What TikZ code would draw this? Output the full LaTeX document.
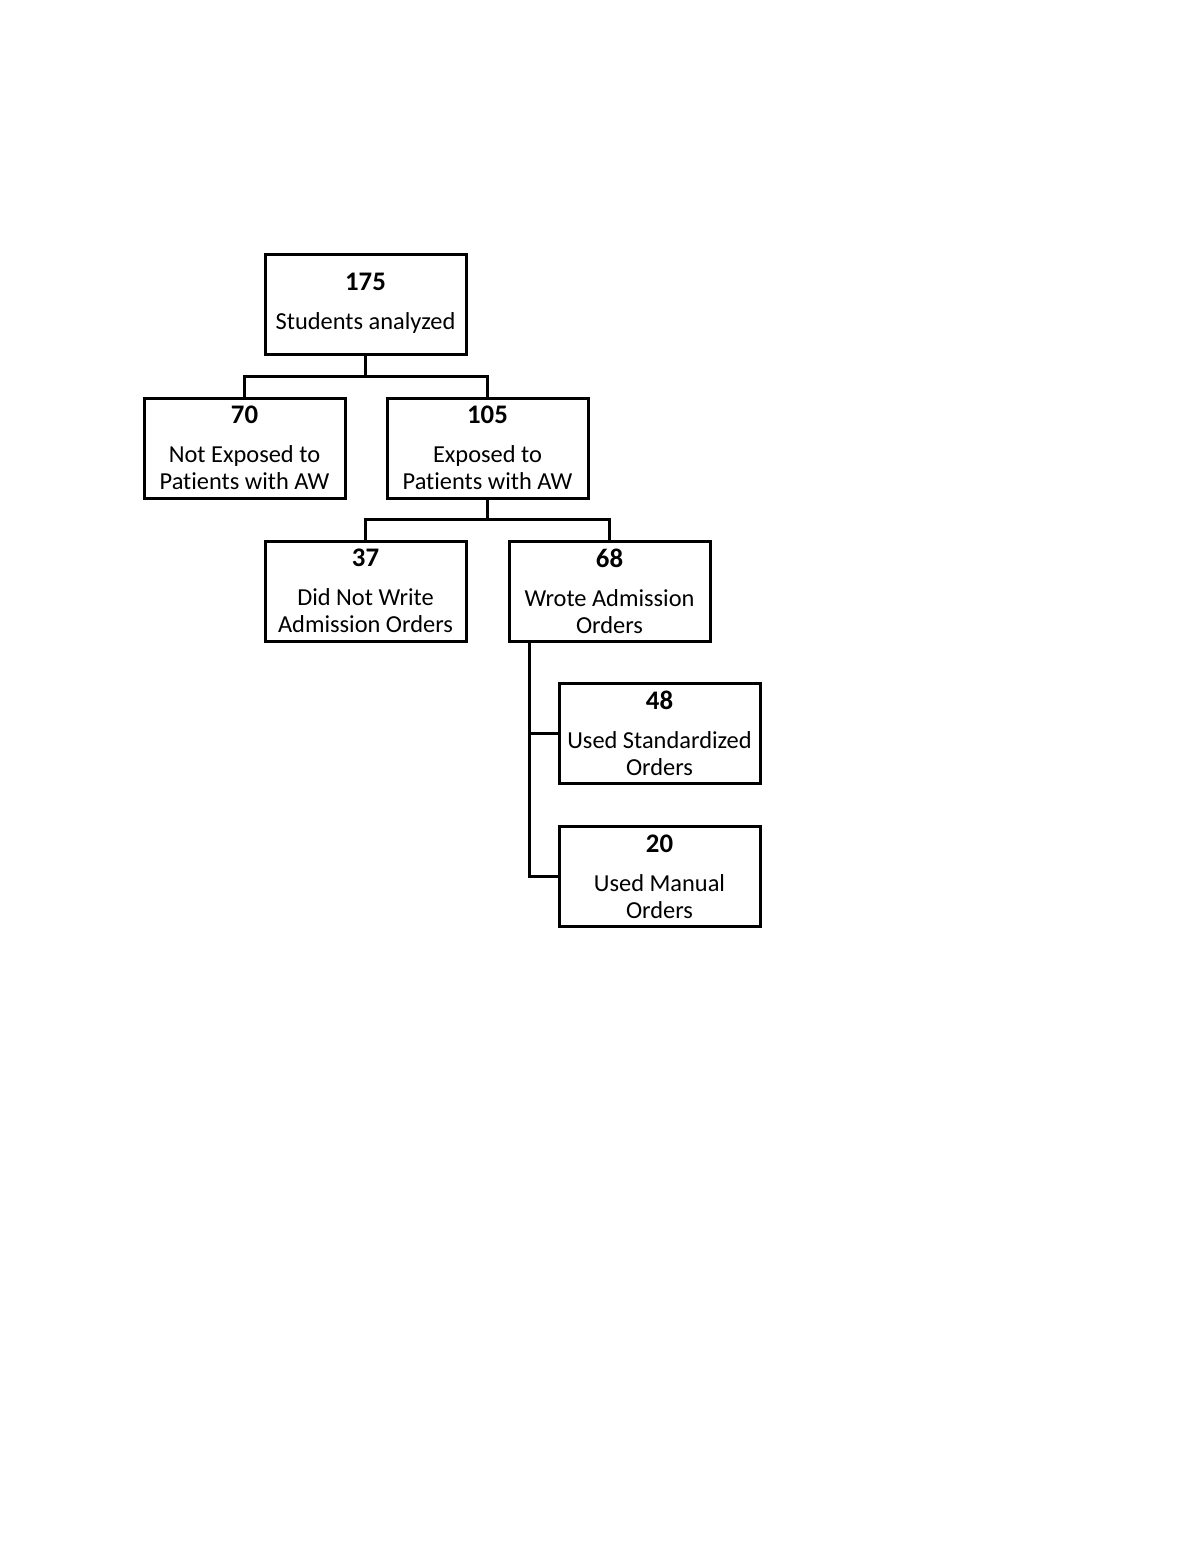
\documentclass[tikz,border=0pt]{standalone}
\usepackage{fontspec}
\setmainfont[Ligatures=NoCommon]{Carlito}
\newcommand{\numtxt}[1]{{\fontsize{13.4}{13.5}\selectfont\textbf{#1}}}
\begin{document}
\begin{tikzpicture}[x=0.5pt,y=-0.5pt,
  box/.style={draw, line width=1.5pt, minimum width=100.5pt, minimum height=50pt, inner sep=0pt, align=center, font=\fontsize{12.2}{13.5}\selectfont},
  conn/.style={line width=1.5pt}]
\path[use as bounding box, fill=white] (0,0) rectangle (1200,1553);
\node[box] (n175) at (365.5,304.5) {\numtxt{175}\\[6pt]Students analyzed\rule[-3pt]{0pt}{1pt}};
\node[box] (n70) at (244.5,448) {\numtxt{70}\\[6pt]Not Exposed to\\Patients with AW};
\node[box] (n105) at (487.5,448) {\numtxt{105}\\[6pt]Exposed to\\Patients with AW};
\node[box] (n37) at (365.5,591) {\numtxt{37}\\[6pt]Did Not Write\\Admission Orders};
\node[box] (n68) at (609.5,591) {\numtxt{68}\\[6pt]Wrote Admission\\Orders};
\node[box] (n48) at (659.5,733.5) {\numtxt{48}\\[6pt]Used Standardized\\Orders};
\node[box] (n20) at (659.5,876.5) {\numtxt{20}\\[6pt]Used Manual\\Orders};
\coordinate (j1) at (365.5,376);
\coordinate (j2) at (487.5,519);
\coordinate (j3) at (529,641);
\draw[conn] (n175.south) -- (j1);
\draw[conn] (n70.north) |- (j1) -| (n105.north);
\draw[conn] (n105.south) -- (j2);
\draw[conn] (n37.north) |- (j2) -| (n68.north);
\draw[conn] (j3) |- (n48.west);
\draw[conn] (j3) |- (n20.west);
\end{tikzpicture}
\end{document}
